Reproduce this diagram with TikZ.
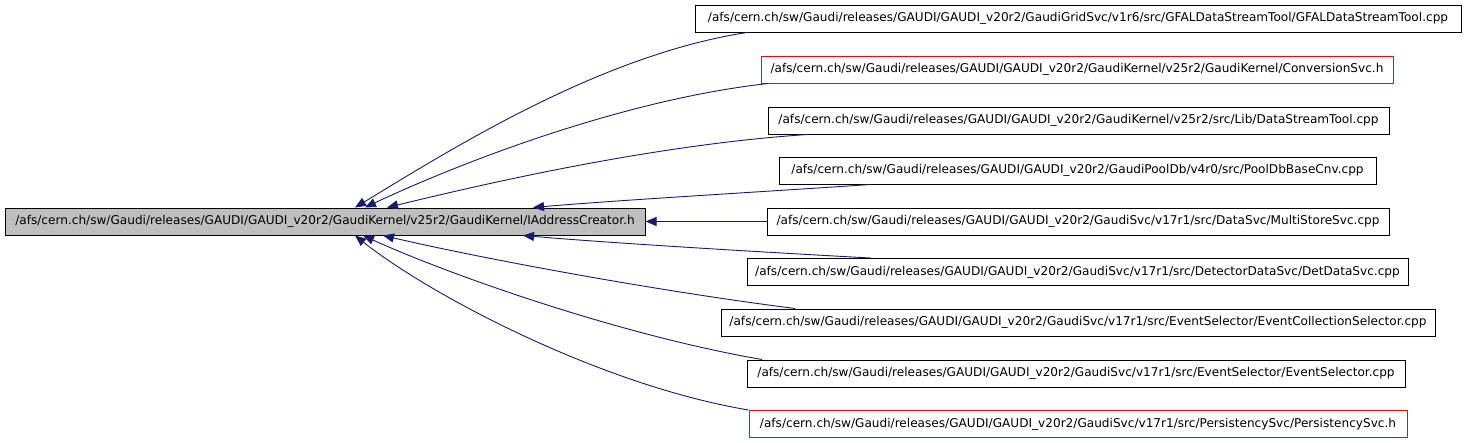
\documentclass[tikz,border=0pt]{standalone}
\usepackage{fontspec}
\setmainfont{DejaVu Sans}
\usetikzlibrary{arrows.meta}
\definecolor{edgeblue}{RGB}{25,25,112}
\definecolor{mainfill}{RGB}{191,191,191}
\tikzset{
  box/.style={draw=black, line width=1pt, inner sep=0pt, font=\fontsize{12.1}{14}\selectfont, minimum height=27pt},
  redbox/.style={box, draw=red},
  mainbox/.style={box, fill=mainfill},
  dep/.style={draw=edgeblue, line width=0.9pt, -{Triangle[length=11pt,width=9pt]}},
}
\begin{document}
\begin{tikzpicture}[x=1pt,y=-1pt]
\useasboundingbox (0,0) rectangle (1466,442);
\node[mainbox, minimum width=640pt] (main) at (325,221.5) {/afs/cern.ch/sw/Gaudi/releases/GAUDI/GAUDI\_v20r2/GaudiKernel/v25r2/GaudiKernel/IAddressCreator.h};
\node[box, minimum width=766pt] (n1) at (1078,18.5) {/afs/cern.ch/sw/Gaudi/releases/GAUDI/GAUDI\_v20r2/GaudiGridSvc/v1r6/src/GFALDataStreamTool/GFALDataStreamTool.cpp};
\node[redbox, minimum width=632pt] (n2) at (1077,69.5) {/afs/cern.ch/sw/Gaudi/releases/GAUDI/GAUDI\_v20r2/GaudiKernel/v25r2/GaudiKernel/ConversionSvc.h};
\node[box, minimum width=621pt] (n3) at (1078.5,120.5) {/afs/cern.ch/sw/Gaudi/releases/GAUDI/GAUDI\_v20r2/GaudiKernel/v25r2/src/Lib/DataStreamTool.cpp};
\node[box, minimum width=597pt] (n4) at (1077.5,170.5) {/afs/cern.ch/sw/Gaudi/releases/GAUDI/GAUDI\_v20r2/GaudiPoolDb/v4r0/src/PoolDbBaseCnv.cpp};
\node[box, minimum width=622pt] (n5) at (1078,221.5) {/afs/cern.ch/sw/Gaudi/releases/GAUDI/GAUDI\_v20r2/GaudiSvc/v17r1/src/DataSvc/MultiStoreSvc.cpp};
\node[box, minimum width=661pt] (n6) at (1077.5,272) {/afs/cern.ch/sw/Gaudi/releases/GAUDI/GAUDI\_v20r2/GaudiSvc/v17r1/src/DetectorDataSvc/DetDataSvc.cpp};
\node[box, minimum width=714pt] (n7) at (1078,322.5) {/afs/cern.ch/sw/Gaudi/releases/GAUDI/GAUDI\_v20r2/GaudiSvc/v17r1/src/EventSelector/EventCollectionSelector.cpp};
\node[box, minimum width=658pt] (n8) at (1076,373.5) {/afs/cern.ch/sw/Gaudi/releases/GAUDI/GAUDI\_v20r2/GaudiSvc/v17r1/src/EventSelector/EventSelector.cpp};
\node[redbox, minimum width=658pt] (n9) at (1078,424) {/afs/cern.ch/sw/Gaudi/releases/GAUDI/GAUDI\_v20r2/GaudiSvc/v17r1/src/PersistencySvc/PersistencySvc.h};
% connectors
\draw[dep] ([xshift=-331pt]n1.south) .. controls (600,55) and (450,150) .. ([xshift=30pt]main.north);
\draw[dep] ([xshift=-309pt]n2.south) .. controls (620,100) and (455,165) .. ([xshift=40pt]main.north);
\draw[dep] ([xshift=-271pt]n3.south) .. controls (650,145) and (480,185) .. ([xshift=62pt]main.north);
\draw[dep] ([xshift=-207pt]n4.south) .. controls (760,192) and (620,200) .. ([xshift=208pt]main.north);
\draw[dep] (n5.west) -- (main.east);
\draw[dep] ([xshift=-207pt]n6.north) .. controls (760,252) and (610,243) .. ([xshift=198pt]main.south);
\draw[dep] ([xshift=-283pt]n7.north) .. controls (650,290) and (480,258) .. ([xshift=58pt]main.south);
\draw[dep] ([xshift=-314pt]n8.north) .. controls (620,335) and (450,275) .. ([xshift=38pt]main.south);
\draw[dep] (n9.north west) .. controls (600,385) and (430,295) .. ([xshift=30pt]main.south);
\end{tikzpicture}
\end{document}
